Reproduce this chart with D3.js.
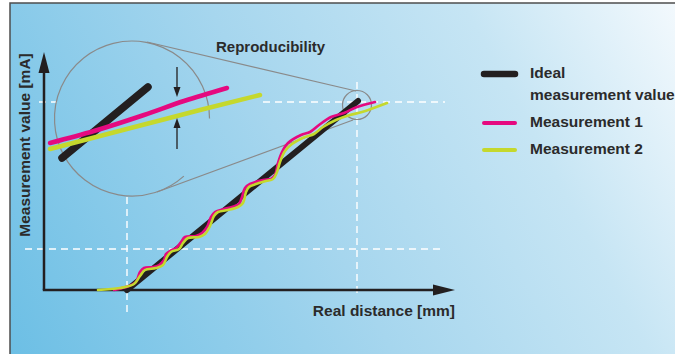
<!DOCTYPE html>
<html>
<head>
<meta charset="utf-8">
<script src="https://cdn.jsdelivr.net/npm/d3@7"></script>
<style>
  body { margin: 0; background: #fff; }
  text { font-family: "Liberation Sans", Arial, sans-serif; font-weight: bold; fill: #2b2b2b; }
</style>
</head>
<body>
<div id="chart"></div>
<script>
(function() {

    // Chart size
    var width = 675;
    var height = 354;

    // Data (axis units: x = real distance, y = measurement value)
    var idealLine = [[83, 0], [314, 189]];

    var measurement1 = [
        [70, 0], [85, 4], [92, 8], [96, 18], [100, 22], [109, 23], [115, 25], [120, 30],
        [122, 36], [126, 39], [132, 42], [137, 48], [141, 53], [152, 54], [158, 57], [163, 63],
        [167, 73], [171, 78], [180, 81], [188, 83], [195, 86], [198, 93], [201, 102], [206, 106],
        [219, 110], [227, 111], [231, 115], [234, 127], [238, 138], [244, 147], [257, 155],
        [266, 158], [275, 165], [287, 173], [300, 177], [313, 183], [331, 188]
    ];

    var measurement2 = [
        [54, 0], [76, 2], [90, 6], [96, 14], [101, 20], [112, 22], [119, 25], [123, 33],
        [127, 38], [135, 41], [139, 47], [144, 52], [155, 53], [161, 56], [166, 64], [170, 74],
        [174, 78], [184, 80], [194, 83], [199, 87], [202, 98], [205, 103], [212, 106], [222, 109],
        [229, 111], [233, 118], [236, 128], [241, 139], [248, 146], [261, 153], [270, 156],
        [279, 163], [292, 170], [306, 175], [318, 178], [343, 187]
    ];

    // Magnified view of the top end
    var insetIdeal = [[18, 132], [104, 203]];
    var insetMeasurement1 = [[6, 147], [50, 159], [100, 175], [140, 189], [183, 202]];
    var insetMeasurement2 = [[6, 141], [56, 154], [106, 167], [156, 180], [216, 195]];

    // Reference (dashed) lines: [x1, y1, x2, y2]
    var dashedLines = [
        [-19, 41, 401, 41],
        [83, 93, 83, -22],
        [-5, 188, 13, 188],
        [219, 188, 401, 188],
        [313, 208, 313, -7]
    ];

    var legendLabels = [["Ideal", "measurement value"], ["Measurement 1"], ["Measurement 2"]];
    var xLabel = "Real distance [mm]";
    var yLabel = "Measurement value [mA]";
    var insetTitle = "Reproducibility";

    var colors = { ideal: "#231f20", m1: "#e5097f", m2: "#c5d82d", zoom: "#8a8a8a" };

    var svg = d3.select("#chart")
        .append("svg")
        .attr("width", width)
        .attr("height", height);

    // Background gradient
    var grad = svg.append("defs").append("linearGradient")
        .attr("id", "bg")
        .attr("gradientUnits", "userSpaceOnUse")
        .attr("x1", 10).attr("y1", 354)
        .attr("x2", 675).attr("y2", 0);
    grad.append("stop").attr("offset", 0).attr("stop-color", "#6cbfe5");
    grad.append("stop").attr("offset", 0.45).attr("stop-color", "#a6d6ee");
    grad.append("stop").attr("offset", 0.75).attr("stop-color", "#c6e5f4");
    grad.append("stop").attr("offset", 1).attr("stop-color", "#f3f9fd");

    svg.append("rect")
        .attr("x", 10).attr("y", 3)
        .attr("width", 700).attr("height", 400)
        .attr("fill", "url(#bg)")
        .attr("stroke", "#4d4d4d")
        .attr("stroke-width", 1.5);

    // Scales
    var x = d3.scaleLinear().domain([0, 411]).range([44, 455]);
    var y = d3.scaleLinear().domain([0, 240]).range([290, 50]);

    var line = d3.line()
        .x(d => x(d[0]))
        .y(d => y(d[1]));
    var smooth = d3.line()
        .x(d => x(d[0]))
        .y(d => y(d[1]))
        .curve(d3.curveCatmullRom.alpha(0.5));
    var soft = d3.line()
        .x(d => x(d[0]))
        .y(d => y(d[1]))
        .curve(d3.curveMonotoneX);

    // Dashed guide lines
    svg.append("g")
        .selectAll("line")
        .data(dashedLines)
        .enter().append("line")
        .attr("x1", d => x(d[0])).attr("y1", d => y(d[1]))
        .attr("x2", d => x(d[2])).attr("y2", d => y(d[3]))
        .attr("stroke", "#fff")
        .attr("stroke-width", 1.4)
        .attr("stroke-dasharray", "7,5");

    // Magnifier: big circle (open arc), small circle, tangent lines
    var cx = x(88), cy = y(171.5), r = 77.5;
    var p = d3.path();
    p.moveTo(cx + r * Math.cos(48 * Math.PI / 180), cy + r * Math.sin(48 * Math.PI / 180));
    p.arc(cx, cy, r, 48 * Math.PI / 180, 2 * Math.PI, false);
    var zoomG = svg.append("g")
        .attr("fill", "none")
        .attr("stroke", colors.zoom)
        .attr("stroke-width", 1.2);
    zoomG.append("path").attr("d", p.toString());
    zoomG.append("circle").attr("cx", x(313)).attr("cy", y(185)).attr("r", 14.5);
    zoomG.append("line")
        .attr("x1", x(103)).attr("y1", y(248))
        .attr("x2", x(312)).attr("y2", y(199));
    zoomG.append("line")
        .attr("x1", x(113)).attr("y1", y(98))
        .attr("x2", x(309)).attr("y2", y(170));

    // Axes with arrowheads
    var axisG = svg.append("g");
    axisG.append("line")
        .attr("x1", x(0)).attr("y1", y(0))
        .attr("x2", x(0)).attr("y2", y(222))
        .attr("stroke", colors.ideal).attr("stroke-width", 2.5);
    axisG.append("line")
        .attr("x1", x(0) - 1.2).attr("y1", y(0))
        .attr("x2", x(392)).attr("y2", y(0))
        .attr("stroke", colors.ideal).attr("stroke-width", 2.5);
    axisG.append("path")
        .attr("d", "M" + x(0) + "," + y(238) + "L" + (x(0) + 5.5) + "," + (y(238) + 21) +
            "L" + (x(0) - 5.5) + "," + (y(238) + 21) + "Z")
        .attr("fill", colors.ideal);
    axisG.append("path")
        .attr("d", "M" + x(411) + "," + y(0) + "L" + (x(411) - 22) + "," + (y(0) - 5.5) +
            "L" + (x(411) - 22) + "," + (y(0) + 5.5) + "Z")
        .attr("fill", colors.ideal);

    // Main curves
    svg.append("path")
        .attr("d", line(idealLine))
        .attr("fill", "none")
        .attr("stroke", colors.ideal)
        .attr("stroke-width", 6)
        .attr("stroke-linecap", "round");
    svg.append("path")
        .attr("d", smooth(measurement1))
        .attr("fill", "none")
        .attr("stroke", colors.m1)
        .attr("stroke-width", 2.6)
        .attr("stroke-linecap", "round");
    svg.append("path")
        .attr("d", smooth(measurement2))
        .attr("fill", "none")
        .attr("stroke", colors.m2)
        .attr("stroke-width", 2.6)
        .attr("stroke-linecap", "round");

    // Inset curves
    svg.append("path")
        .attr("d", line(insetIdeal))
        .attr("fill", "none")
        .attr("stroke", colors.ideal)
        .attr("stroke-width", 7.5)
        .attr("stroke-linecap", "round");
    svg.append("path")
        .attr("d", soft(insetMeasurement2))
        .attr("fill", "none")
        .attr("stroke", colors.m2)
        .attr("stroke-width", 4.5)
        .attr("stroke-linecap", "round");
    svg.append("path")
        .attr("d", soft(insetMeasurement1))
        .attr("fill", "none")
        .attr("stroke", colors.m1)
        .attr("stroke-width", 4.5)
        .attr("stroke-linecap", "round");

    // Reproducibility arrows
    var ax = x(133);
    var arrows = [[223, 193], [141, 172]];
    arrows.forEach(function(a) {
        var y0 = y(a[0]), y1 = y(a[1]);
        var dir = y1 > y0 ? 1 : -1;
        svg.append("line")
            .attr("x1", ax).attr("y1", y0)
            .attr("x2", ax).attr("y2", y1 - dir * 6)
            .attr("stroke", colors.ideal).attr("stroke-width", 1.3);
        svg.append("path")
            .attr("d", "M" + ax + "," + y1 + "L" + (ax - 3.5) + "," + (y1 - dir * 10) +
                "L" + (ax + 3.5) + "," + (y1 - dir * 10) + "Z")
            .attr("fill", colors.ideal);
    });

    // Texts
    svg.append("text")
        .attr("x", 216).attr("y", 47)
        .attr("dy", "0.35em")
        .style("font-size", "15px")
        .text(insetTitle);

    svg.append("text")
        .attr("x", x(411)).attr("y", 311)
        .attr("dy", "0.35em")
        .attr("text-anchor", "end")
        .style("font-size", "15.5px")
        .text(xLabel);

    svg.append("text")
        .attr("transform", "translate(25,145) rotate(-90)")
        .attr("dy", "0.35em")
        .attr("text-anchor", "middle")
        .style("font-size", "15.5px")
        .text(yLabel);

    // Legend
    var legendColors = [colors.ideal, colors.m1, colors.m2];
    var legendWidths = [6.5, 4, 4];
    var rowY = 74;
    legendLabels.forEach(function(lab, i) {
        svg.append("line")
            .attr("x1", 484).attr("x2", 515)
            .attr("y1", rowY).attr("y2", rowY)
            .attr("stroke", legendColors[i])
            .attr("stroke-width", legendWidths[i])
            .attr("stroke-linecap", "round");
        var t = svg.append("text")
            .attr("x", 530).attr("y", rowY - 1)
            .style("font-size", "15.5px");
        lab.forEach(function(s, j) {
            t.append("tspan")
                .attr("x", 530)
                .attr("dy", j === 0 ? "0.35em" : "22px")
                .text(s);
        });
        rowY += (lab.length - 1) * 22 + 27;
    });

})();
</script>
</body>
</html>
